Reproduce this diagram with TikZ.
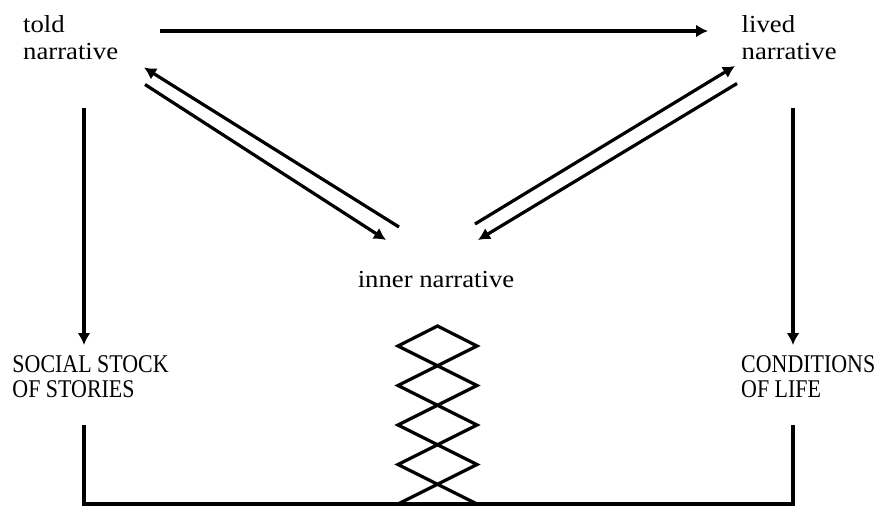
\documentclass[tikz,border=0pt]{standalone}
\usepackage{fontspec}
\setmainfont{Liberation Serif}[FakeStretch=1.09]
\newfontfamily\capsfont{Liberation Serif}[FakeStretch=0.86]
\usetikzlibrary{arrows.meta}
\begin{document}
\begin{tikzpicture}[x=1pt,y=-1pt,
  line/.style={line width=3.2pt,line join=miter},
  arr/.style={line width=3.2pt,-{Latex[length=12pt,width=13pt]}},
  lab/.style={inner sep=0pt,anchor=north west,align=left,font=\fontsize{24.5}{27}\selectfont},
  capslab/.style={inner sep=0pt,anchor=north west,align=left,font=\capsfont\fontsize{25.5}{25.5}\selectfont}]
\useasboundingbox (0,0) rectangle (880,506);

% labels
\node[lab] (told) at (23,14.8) {told\\narrative};
\node[lab] (lived) at (741.5,14.8) {lived\\narrative};
\node[inner sep=0pt,anchor=base west,font=\fontsize{24.5}{27}\selectfont] (inner) at (357.6,287.3) {inner narrative};
\node[capslab] (social) at (12.3,355.4) {SOCIAL STOCK\\OF STORIES};
\node[capslab] (cond) at (741,355.4) {CONDITIONS\\OF LIFE};

% connector end points
\coordinate (h1) at (160,31);
\coordinate (h2) at (708,31);
\coordinate (lv1) at (84,108);
\coordinate (lv2) at (84,345);
\coordinate (rv1) at (793,108);
\coordinate (rv2) at (793,345);
\coordinate (lu1) at (399,227);
\coordinate (lu2) at (144,67.5);
\coordinate (ll1) at (145,84.5);
\coordinate (ll2) at (386,240);
\coordinate (ru1) at (475,224);
\coordinate (ru2) at (735,66);
\coordinate (rl1) at (737,83.5);
\coordinate (rl2) at (478,240);
\coordinate (bl) at (84,425);
\coordinate (br) at (793,425);
\coordinate (blc) at (84,504);
\coordinate (brc) at (793,504);

% arrows
\draw[arr] (h1) -- (h2);
\draw[arr] (lv1) -- (lv2);
\draw[arr] (rv1) -- (rv2);
\draw[arr] (lu1) -- (lu2);
\draw[arr] (ll1) -- (ll2);
\draw[arr] (ru1) -- (ru2);
\draw[arr] (rl1) -- (rl2);

% bottom frame
\draw[line] (bl) -- (blc) -- (brc) -- (br);

% crossed zigzag
\draw[line] (398,504) -- (477,464.5) -- (398,425) -- (477,385.5) -- (398,346)
  -- (437.5,326) -- (477,346) -- (398,385.5) -- (477,425) -- (398,464.5) -- (477,504);
\end{tikzpicture}
\end{document}
